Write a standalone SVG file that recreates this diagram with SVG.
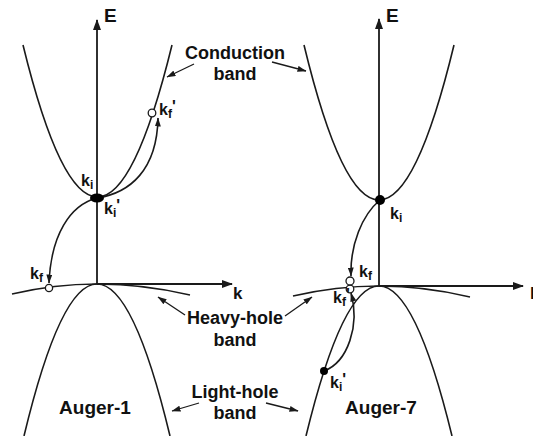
<svg xmlns="http://www.w3.org/2000/svg" width="533" height="436" viewBox="0 0 533 436">
<defs>
<style>
.c{fill:none;stroke:#1a1a1a;stroke-width:1.6}
.ax{fill:none;stroke:#1a1a1a;stroke-width:1.8}
.lbl{fill:none;stroke:#1a1a1a;stroke-width:1.3}
.t{font-family:"Liberation Sans",Arial,sans-serif;font-weight:bold;fill:#111}
.big{font-size:18px;text-anchor:middle}
.aug{font-size:19px;text-anchor:middle}
.k{font-size:16px}
.ax-t{font-size:19px}
.open{fill:#fff;stroke:#1a1a1a;stroke-width:1.3}
.dot{fill:#000}
</style>
<marker id="ah" markerWidth="11" markerHeight="8" refX="10" refY="4" orient="auto" markerUnits="userSpaceOnUse">
<path d="M0,0 L11,4 L0,8 z" fill="#1a1a1a"/>
</marker>
<marker id="sh" markerWidth="9" markerHeight="6" refX="8.5" refY="3" orient="auto" markerUnits="userSpaceOnUse">
<path d="M0,0 L9,3 L0,6 z" fill="#1a1a1a"/>
</marker>
</defs>

<g id="bands-left">
<path class="c" d="M23,45 Q97.5,349 172,45"/>
<path class="c" d="M24,436 Q97,132 170,436"/>
<path class="c" d="M12,294 Q54.5,284 97,284 Q143.5,284 190,295"/>
</g>
<g id="bands-right">
<path class="c" d="M304,45 Q379,355 454,45"/>
<path class="c" d="M306,436 Q379,136 452,436"/>
<path class="c" d="M293,296 Q336,286 379,286 Q424.5,286 470,297"/>
</g>

<g id="axes">
<line class="ax" x1="97" y1="284" x2="97" y2="20" marker-end="url(#ah)"/>
<line class="ax" x1="97" y1="284" x2="232" y2="284" marker-end="url(#ah)"/>
<line class="ax" x1="379" y1="286" x2="379" y2="19" marker-end="url(#ah)"/>
<line class="ax" x1="379" y1="286" x2="523" y2="286" marker-end="url(#ah)"/>
</g>

<g id="connectors">
<path class="c" d="M97,198 C70,205 51,235 49,283" marker-end="url(#sh)"/>
<path class="c" d="M97,198 C130,193 157,170 158,118" marker-end="url(#sh)"/>
<path class="c" d="M380,200 C362,215 350,245 351,276" marker-end="url(#sh)"/>
<path class="c" d="M324,371 C348,362 360,325 351,293" marker-end="url(#sh)"/>
<line class="lbl" x1="194" y1="64" x2="167" y2="77" marker-end="url(#sh)"/>
<line class="lbl" x1="272" y1="62" x2="306" y2="71" marker-end="url(#sh)"/>
<line class="lbl" x1="185" y1="315" x2="158" y2="297" marker-end="url(#sh)"/>
<line class="lbl" x1="285" y1="316" x2="312" y2="297" marker-end="url(#sh)"/>
<line class="lbl" x1="199" y1="403" x2="172" y2="411" marker-end="url(#sh)"/>
<line class="lbl" x1="266" y1="403" x2="298" y2="411" marker-end="url(#sh)"/>
</g>

<g id="points">
<ellipse class="dot" cx="97" cy="198" rx="7" ry="4.5"/>
<circle class="open" cx="152" cy="113" r="3.8"/>
<circle class="open" cx="49" cy="288" r="3.6"/>
<circle class="dot" cx="380" cy="200" r="5"/>
<circle class="open" cx="350" cy="289" r="3.8"/>
<circle class="open" cx="350" cy="281" r="4"/>
<circle class="dot" cx="324" cy="371" r="4"/>
</g>

<g id="labels">
<text class="t ax-t" x="104" y="22">E</text>
<text class="t ax-t" x="386" y="22">E</text>
<text class="t" x="233" y="299" font-size="17">k</text>
<text class="t" x="530" y="299" font-size="17">k</text>
<text class="t k" x="81" y="186">k<tspan font-size="12" dy="3">i</tspan></text>
<text class="t k" x="104" y="214">k<tspan font-size="12" dy="3">i</tspan><tspan dy="-6">'</tspan></text>
<text class="t k" x="159" y="115">k<tspan font-size="12" dy="3">f</tspan><tspan dy="-6">'</tspan></text>
<text class="t k" x="30" y="279">k<tspan font-size="12" dy="3">f</tspan></text>
<text class="t k" x="390" y="219">k<tspan font-size="12" dy="3">i</tspan></text>
<text class="t k" x="359" y="277">k<tspan font-size="12" dy="3">f</tspan></text>
<text class="t k" x="333" y="303">k<tspan font-size="12" dy="3">f</tspan><tspan dy="-6">'</tspan></text>
<text class="t k" x="330" y="388">k<tspan font-size="12" dy="3">i</tspan><tspan dy="-6">'</tspan></text>
<text class="t big" x="235" y="59">Conduction</text>
<text class="t big" x="235" y="80">band</text>
<text class="t big" x="235" y="324">Heavy-hole</text>
<text class="t big" x="235" y="346">band</text>
<text class="t big" x="235" y="398">Light-hole</text>
<text class="t big" x="235" y="419">band</text>
<text class="t aug" x="95" y="414">Auger-1</text>
<text class="t aug" x="381" y="414">Auger-7</text>
</g>
</svg>
